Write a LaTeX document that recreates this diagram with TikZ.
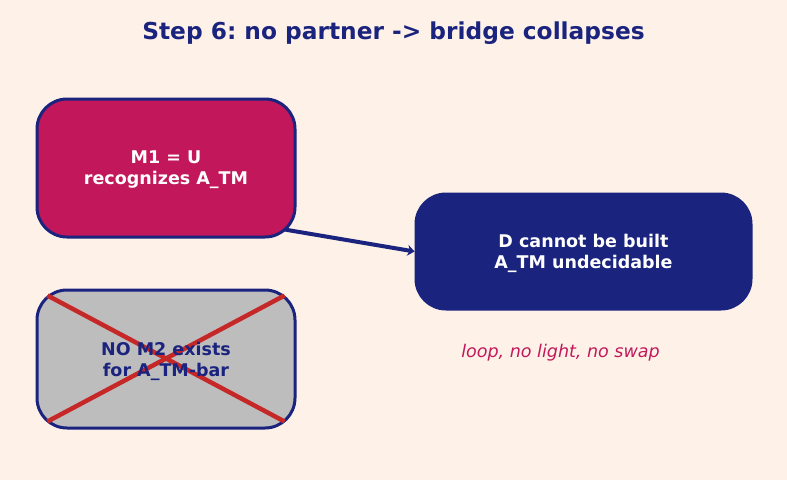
\documentclass[tikz,border=0pt]{standalone}
\usepackage{fontspec}
\setmainfont{DejaVu Sans}
\usetikzlibrary{arrows.meta,calc}
\frenchspacing
\definecolor{bg}{HTML}{FEF1E7}
\definecolor{navy}{HTML}{1A237E}
\definecolor{crim}{HTML}{C2185B}
\definecolor{grayfill}{HTML}{BDBDBD}
\definecolor{xred}{HTML}{C62828}
\tikzset{
  boxbase/.style={rounded corners=30pt, line width=3pt, inner sep=0pt},
  boxtext/.style={align=center, font=\fontsize{17.5}{21}\selectfont\bfseries, inner sep=0pt},
  crimbox/.style={boxbase, draw=navy, fill=crim, minimum width=258pt, minimum height=138pt},
  graybox/.style={boxbase, draw=navy, fill=grayfill, minimum width=258pt, minimum height=138pt},
  navybox/.style={boxbase, draw=navy, fill=navy, minimum width=335pt, minimum height=115pt},
  conn/.style={draw=navy, line width=4pt, -{Stealth[length=7pt,width=11pt]}},
  cross/.style={draw=xred, line width=4.5pt}
}
\begin{document}
\begin{tikzpicture}[x=1pt,y=-1pt]
\fill[bg] (0,0) rectangle (787,480);
\useasboundingbox (0,0) rectangle (787,480);
\node[font=\fontsize{23.3}{28}\selectfont\bfseries, text=navy] (title) at (393.5,33) {Step 6: no partner -> bridge collapses};
\node[crimbox] (m1) at (166,168) {};
\node[boxtext, text=white] (m1t) at (166,170) {M1 = U\\recognizes A\_TM};
\node[graybox] (m2) at (166,359) {};
\draw[cross] ($(m2.north west)+(12,7)$) -- ($(m2.south east)+(-12,-8)$);
\draw[cross] ($(m2.south west)+(12,-8)$) -- ($(m2.north east)+(-12,7)$);
\node[boxtext, text=navy] (m2t) at (166,361) {NO M2 exists\\for A\_TM-bar};
\node[navybox] (d) at (583.5,251.5) {};
\node[boxtext, text=white] (dt) at (583.5,253.5) {D cannot be built\\A\_TM undecidable};
\coordinate (s) at ($(m1.south east)+(-12,-9)$);
\draw[conn] (s) -- (d.west);
\node[font=\fontsize{17.5}{21}\selectfont\itshape, text=crim] (note) at (560.5,353) {loop, no light, no swap};
\end{tikzpicture}
\end{document}
